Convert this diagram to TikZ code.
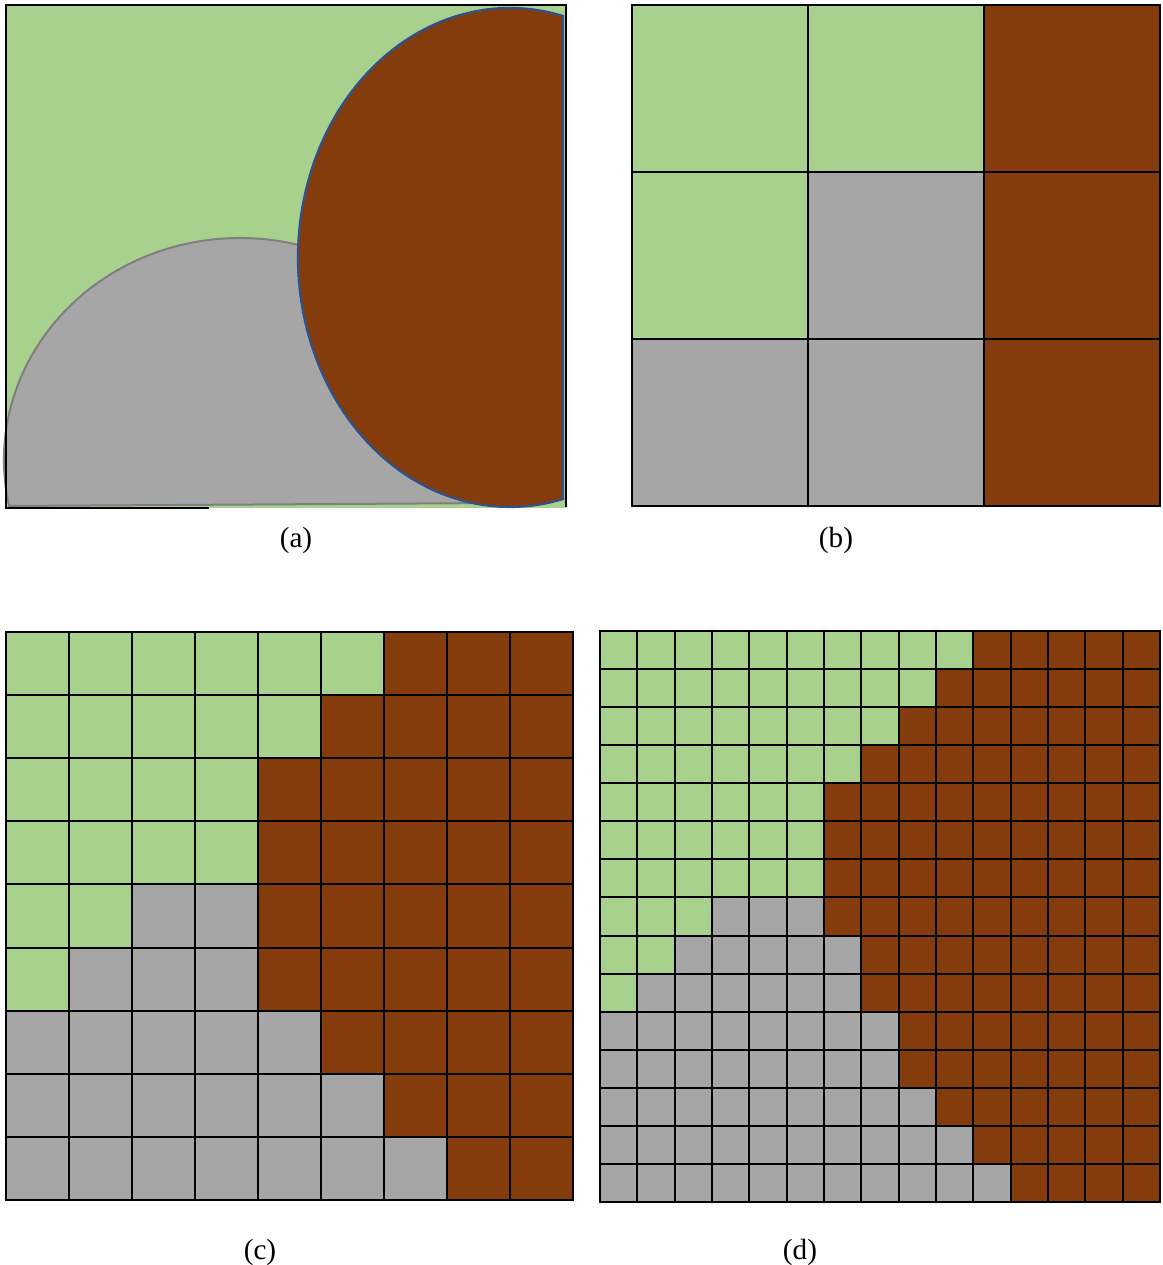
\documentclass[tikz,border=0pt]{standalone}
\usepackage{fontspec}
\setmainfont{Liberation Serif}
\definecolor{grn}{HTML}{A9D18E}
\definecolor{brn}{HTML}{843C0C}
\definecolor{gry}{HTML}{A6A6A6}
\definecolor{gryl}{HTML}{7F7F7F}
\definecolor{blu}{HTML}{2F528F}
\newcommand\cellgrid[6]{% #1 x0, #2 Ytop, #3 w, #4 h, #5 n, #6 rows (green/gray counts)
  \foreach \ng/\ny [count=\ri from 0] in {#6}{%
    \pgfmathtruncatemacro\sm{\ng+\ny}%
    \foreach \ci in {1,...,#5}{%
      \ifnum\ci>\sm\relax \def\cellcol{brn}\else\ifnum\ci>\ng\relax \def\cellcol{gry}\else \def\cellcol{grn}\fi\fi
      \fill[\cellcol] ({#1+(\ci-1)*#3},{#2-\ri*#4}) rectangle ++(#3,-#4);
    }%
  }%
  \foreach \k in {0,...,#5}{%
    \draw[gridline] ({#1+\k*#3},#2) -- ++(0,{-#5*#4});
    \draw[gridline] (#1,{#2-\k*#4}) -- ++({#5*#3},0);
  }%
}
\begin{document}
\begin{tikzpicture}[x=0.5pt,y=0.5pt,
  gridline/.style={line width=1pt,black,line cap=rect},
  lbl/.style={font=\fontsize{14.6}{17}\selectfont,inner sep=0pt}]
\useasboundingbox (0,0) rectangle (1163,1265);
% ---- panel (a)
\fill[grn] (6,757) rectangle (566,1260);
\filldraw[fill=gry,draw=gryl,line width=1pt]
  (9.1,759) arc[start angle=191.96,end angle=0,x radius=236,y radius=222]
  -- (500,762) -- cycle;
\filldraw[fill=brn,draw=blu,line width=1.1pt]
  (563,1249.07) arc[start angle=75.52,end angle=284.48,x radius=212,y radius=249.5]
  -- cycle;
\draw[line width=1.1pt] (209,757) -- (6,757) -- (6,1260) -- (566,1260) -- (566,758);
% ---- panel (b)
\cellgrid{632}{1260}{176}{167}{3}{2/0,1/1,0/2}
% ---- panel (c)
\cellgrid{6}{633}{63}{63.111}{9}{6/0,5/0,4/0,4/0,2/2,1/3,0/5,0/6,0/7}
% ---- panel (d)
\cellgrid{600}{634}{37.333}{38.067}{15}{10/0,9/0,8/0,7/0,6/0,6/0,6/0,3/3,2/5,1/6,0/8,0/8,0/9,0/10,0/11}
% ---- labels
\node[lbl] (la) at (296,724.5) {(a)};
\node[lbl] (lb) at (836,724.5) {(b)};
\node[lbl] (lc) at (260,13) {(c)};
\node[lbl] (ld) at (800,13) {(d)};
\end{tikzpicture}
\end{document}
